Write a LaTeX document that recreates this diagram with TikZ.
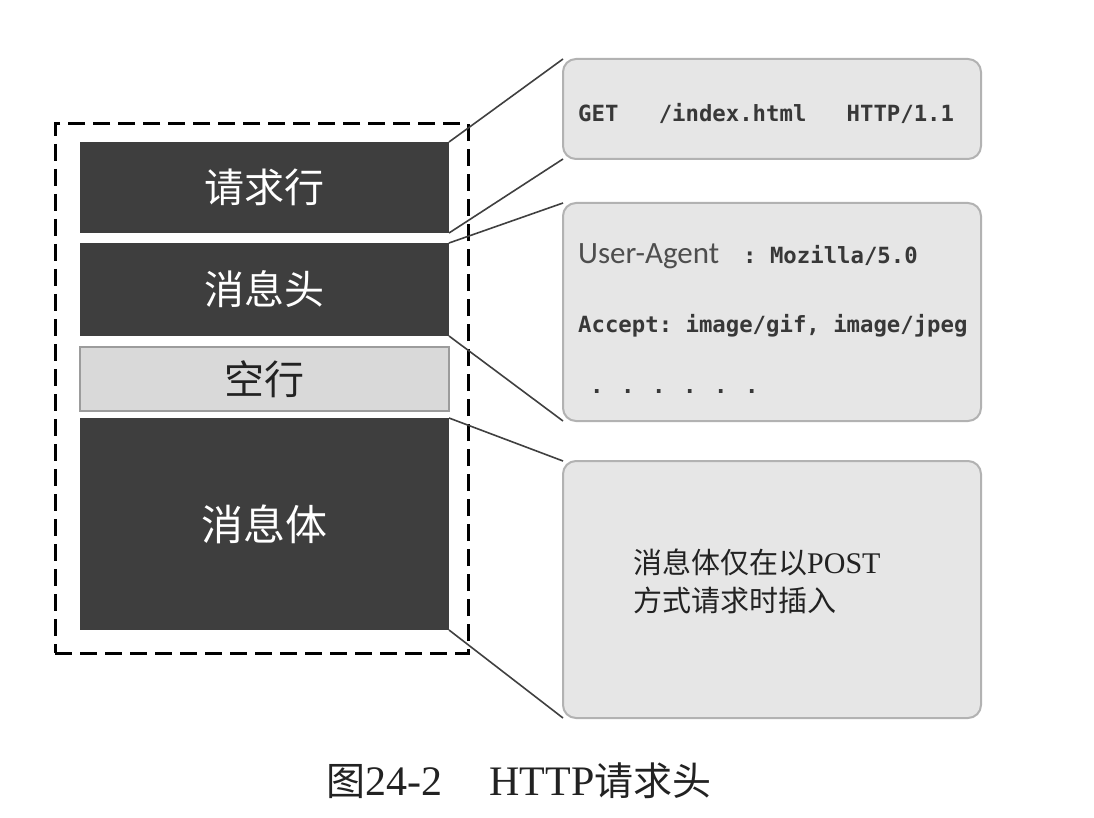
\documentclass[tikz,border=0pt]{standalone}
\usepackage{fontspec}
\setmainfont{Liberation Serif}
\setmonofont{DejaVu Sans Mono}
\newfontfamily\cjk{Noto Sans CJK SC}
\newfontfamily\uafont{Carlito}
\definecolor{darkfill}{HTML}{3E3E3E}
\definecolor{blankfill}{HTML}{D9D9D9}
\definecolor{blankdraw}{HTML}{9C9C9C}
\definecolor{boxfill}{HTML}{E6E6E6}
\definecolor{boxdraw}{HTML}{B2B2B2}
\definecolor{linecol}{HTML}{404040}
\definecolor{textcol}{HTML}{222222}
\begin{document}
\begin{tikzpicture}[x=1pt,y=-1pt,
  leftbox/.style={minimum width=369pt, inner sep=0pt, outer sep=0pt},
  darkbox/.style={leftbox, fill=darkfill, text=white, font=\cjk\fontsize{40}{44}\selectfont},
  blankbox/.style={leftbox, fill=blankfill, draw=blankdraw, line width=1.5pt, text=textcol, font=\cjk\fontsize{40}{44}\selectfont},
  framebox/.style={draw=black, line width=3pt, dash pattern=on 17pt off 8pt, minimum width=413pt, minimum height=529pt, inner sep=0pt, outer sep=0pt},
  infobox/.style={fill=boxfill, draw=boxdraw, line width=2pt, rounded corners=13pt, minimum width=418pt, inner sep=0pt, outer sep=0pt},
  monotext/.style={anchor=base west, inner sep=0pt, text=textcol!90!white, font=\ttfamily\bfseries\fontsize{22.3}{26}\selectfont},
  cjktext/.style={anchor=west, inner sep=0pt, text=textcol, font=\cjk\fontsize{29}{34}\selectfont},
  link/.style={draw=linecol, line width=1.6pt}]
\useasboundingbox (0,0) rectangle (1094,818);
\fill[white] (0,0) rectangle (1094,818);

% left stack
\node[framebox] (frame) at (261.5,388.5) {};
\node[darkbox, minimum height=91pt] (req) at (264.5,187.5) {请求行};
\node[darkbox, minimum height=93pt] (hdr) at (264.5,289.5) {消息头};
\node[blankbox, minimum height=64pt] (blank) at (264.5,379) {空行};
\node[darkbox, minimum height=212pt, font=\cjk\fontsize{42}{46}\selectfont] (body) at (264.5,524) {消息体};

% right boxes
\node[infobox, minimum height=100pt] (r1) at (772,109) {};
\node[infobox, minimum height=218pt] (r2) at (772,312) {};
\node[infobox, minimum height=257pt] (r3) at (772,589.5) {};

% texts in right boxes
\node[monotext] (t1) at (578,122) {GET\ \ \ /index.html\ \ \ HTTP/1.1};
\node[monotext] (t2) at (578,264) {\makebox[165pt][l]{\uafont\mdseries\fontsize{31}{34}\selectfont\color{textcol!80!white}User-Agent}:\ Mozilla/5.0};
\node[monotext] (t3) at (578,332) {Accept:\ image/gif,\ image/jpeg};
\node[monotext] (t4) at (590,393) {\makebox[31pt][l]{.}\makebox[31pt][l]{.}\makebox[31pt][l]{.}\makebox[31pt][l]{.}\makebox[31pt][l]{.}.};
\node[cjktext] (t5) at (633,562) {消息体仅在以{\rmfamily\fontsize{30}{34}\selectfont POST}};
\node[cjktext] (t6) at (633,600) {方式请求时插入};

% connectors
\draw[link] (req.north east) -- (r1.north west);
\draw[link] (req.south east) -- (r1.south west);
\draw[link] (hdr.north east) -- (r2.north west);
\draw[link] (hdr.south east) -- (r2.south west);
\draw[link] (body.north east) -- (r3.north west);
\draw[link] (body.south east) -- (r3.south west);

% caption
\node[text=textcol, inner sep=0pt] (cap) at (519,781) {{\cjk\fontsize{39}{44}\selectfont 图}{\fontsize{42}{48}\selectfont 24-2\hspace{47pt}HTTP}{\cjk\fontsize{39}{44}\selectfont 请求头}};
\end{tikzpicture}
\end{document}
